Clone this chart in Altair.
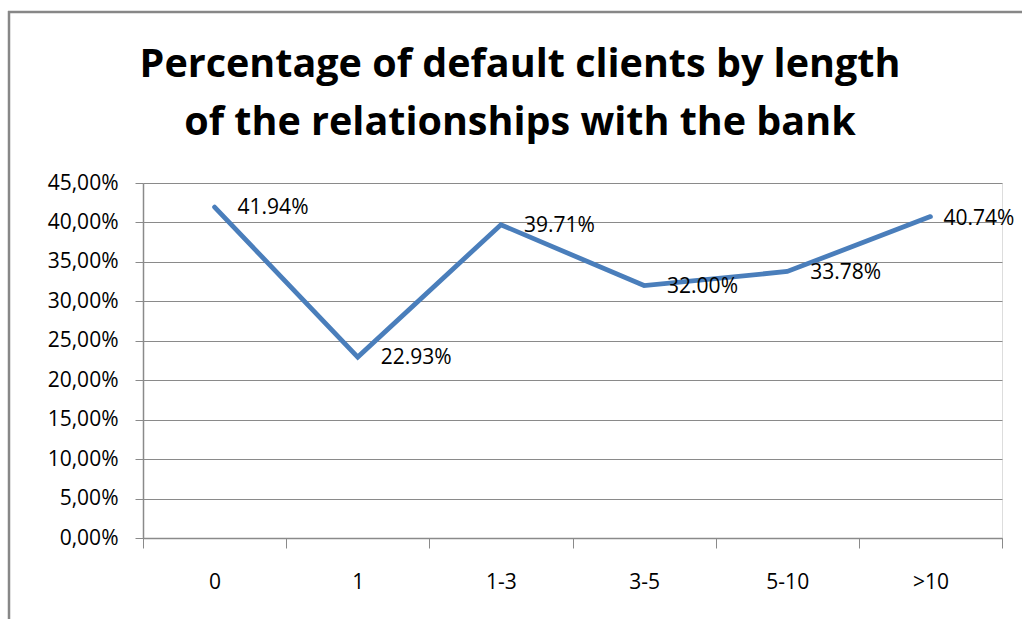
import altair as alt
import pandas as pd

categories = ["0", "1", "1-3", "3-5", "5-10", ">10"]
default_share = [0.4194, 0.2293, 0.3971, 0.3200, 0.3378, 0.4074]
y_ticks = [0, 0.05, 0.10, 0.15, 0.20, 0.25, 0.30, 0.35, 0.40, 0.45]
title_lines = ["Percentage of default clients by length", "of the relationships with the bank"]

df = pd.DataFrame({"category": categories, "share": default_share})

GRAY = "#8a8a8a"
LINE = "#4a7ebb"
LABEL_FONT = "Open Sans"
FS = 21

x_enc = alt.X(
    "category:N",
    sort=categories,
    bandPosition=0.5,
    scale=alt.Scale(type="band", paddingInner=0, paddingOuter=0),
    axis=alt.Axis(
        title=None,
        labelAngle=0,
        tickBand="extent",
        tickSize=10,
        tickColor=GRAY,
        domainColor=GRAY,
        domainWidth=1.5,
        labelPadding=23,
        labelFont=LABEL_FONT,
        labelFontSize=FS,
        labelColor="black",
        labelOverlap=False,
        grid=False,
    ),
)
y_enc = alt.Y(
    "share:Q",
    scale=alt.Scale(domain=[0, 0.45], nice=False, zero=True),
    axis=alt.Axis(
        title=None,
        values=y_ticks,
        tickCount=10,
        labelExpr="replace(format(datum.value, '.2%'), '.', ',')",
        labelOverlap=False,
        tickSize=8,
        tickColor=GRAY,
        domainColor=GRAY,
        domainWidth=1.5,
        gridColor=GRAY,
        gridWidth=1,
        labelPadding=17,
        labelFont=LABEL_FONT,
        labelFontSize=FS,
        labelColor="black",
    ),
)

base = alt.Chart(df)

line = base.mark_line(color=LINE, strokeWidth=4.8, strokeCap="round", strokeJoin="miter").encode(
    x=x_enc, y=y_enc
)

labels = base.mark_text(
    align="left", baseline="middle", dx=23, dy=1,
    font=LABEL_FONT, fontSize=FS, color="black"
).encode(
    x=x_enc,
    y=y_enc,
    text=alt.Text("share:Q", format=".2%"),
).transform_filter(alt.datum.category != ">10")

label_last = base.mark_text(
    align="left", baseline="middle", dx=13, dy=2,
    font=LABEL_FONT, fontSize=FS, color="black"
).encode(
    x=x_enc,
    y=y_enc,
    text=alt.Text("share:Q", format=".2%"),
).transform_filter(alt.datum.category == ">10")

deco = alt.Chart(pd.DataFrame({"a": [0]}))

border_left = deco.mark_rule(color="#878787", strokeWidth=2.5, clip=False).encode(
    x=alt.value(-134), y=alt.value(-172), y2=alt.value(500)
)
border_top = deco.mark_rule(color="#878787", strokeWidth=2.5, clip=False).encode(
    x=alt.value(-135), x2=alt.value(879), y=alt.value(-171)
)

title = deco.mark_text(
    font="Open Sans",
    fontSize=39.5,
    fontWeight="bold",
    color="black",
    align="center",
    baseline="alphabetic",
    lineHeight=58,
).encode(
    x=alt.value(377), y=alt.value(-106), text=alt.value(title_lines)
)

chart = alt.layer(border_left, border_top, line, labels, label_last, title).properties(
    width=859,
    height=355,
    autosize=alt.AutoSizeParams(type="none"),
    padding={"left": 143, "top": 183, "right": 20, "bottom": 81},
).configure_view(stroke=None).configure(background="white")

chart.save("out.html", embed_options={"renderer": "svg", "actions": False})
